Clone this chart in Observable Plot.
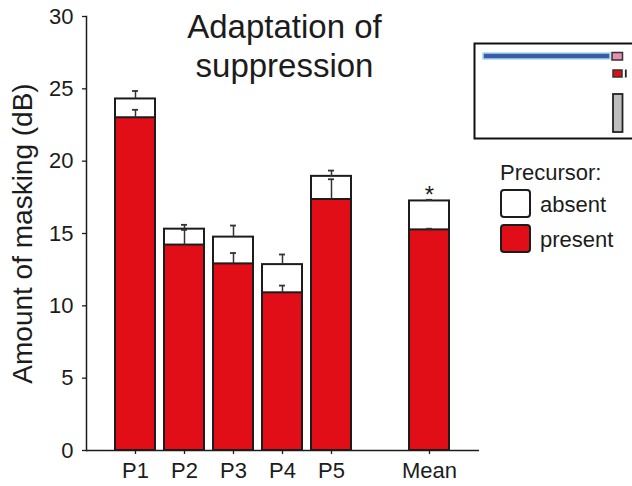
<!DOCTYPE html>
<html><head><meta charset="utf-8">
<script src="https://cdn.jsdelivr.net/npm/d3@7"></script>
<script src="https://cdn.jsdelivr.net/npm/@observablehq/plot@0.6"></script>
<style>
body{margin:0;background:#fff;}
#chart{position:relative;width:632px;height:486px;overflow:hidden;font-family:"Liberation Sans",Arial,sans-serif;}
#chart svg{position:absolute;left:0;top:0;}
</style></head><body><div id="chart"></div>
<script>
// ---- data ----
const categories = ["P1", "P2", "P3", "P4", "P5", "Mean"];
const absent      = [24.3, 15.3, 14.75, 12.85, 18.95, 17.25];
const absentErr   = [0.55, 0.3, 0.8, 0.7, 0.4, 0.08];
const present     = [23.0, 14.2, 12.9, 10.9, 17.35, 15.25];
const presentErr  = [0.55, 1.05, 0.75, 0.5, 1.4, 0.08];
const yTicks = [0, 5, 10, 15, 20, 25, 30];
const significance = [{cat: "Mean", mark: "*"}];
const legendLabels = ["absent", "present"];
const legendTitle = "Precursor:";
const titleText = "Adaptation of\nsuppression";
const yLabel = "Amount of masking (dB)";

const RED = "#e20e17";
const INK = "#1c1c1c";
const FONT = "'Liberation Sans', Arial, sans-serif";

const rows = categories.map((c, i) => ({
  cat: c, absent: absent[i], absentErr: absentErr[i],
  present: present[i], presentErr: presentErr[i]
}));
const xDomain = [...categories.slice(0, 5), " ", categories[5]];
const sig = significance.map(s => {
  const r = rows.find(d => d.cat === s.cat);
  return {...s, top: r.absent + r.absentErr};
});

const plot = Plot.plot({
  width: 632, height: 486,
  marginLeft: 86, marginRight: 153, marginTop: 16, marginBottom: 36,
  style: {fontFamily: FONT, background: "transparent", color: INK},
  x: {type: "band", domain: xDomain, paddingInner: 0.181, paddingOuter: 0.585, label: null},
  y: {domain: [0, 30], label: null},
  marks: [
    Plot.barY(rows, {x: "cat", y: "absent", fill: "white", stroke: INK, strokeWidth: 2}),
    Plot.barY(rows, {x: "cat", y: "present", fill: RED, stroke: INK, strokeWidth: 2}),
    Plot.ruleX(rows, {x: "cat", y1: "absent", y2: d => d.absent + d.absentErr, stroke: "#333", strokeWidth: 1.5}),
    Plot.tickY(rows, {x: "cat", y: d => d.absent + d.absentErr, insetLeft: 17, insetRight: 17, stroke: "#333", strokeWidth: 1.8}),
    Plot.ruleX(rows, {x: "cat", y1: "present", y2: d => d.present + d.presentErr, stroke: "#333", strokeWidth: 1.5}),
    Plot.tickY(rows, {x: "cat", y: d => d.present + d.presentErr, insetLeft: 17, insetRight: 17, stroke: "#333", strokeWidth: 1.8}),
    Plot.text(sig, {x: "cat", y: "top", text: "mark", dy: -4, fontSize: 24, fill: INK}),
    Plot.axisY({ticks: yTicks, tickSize: 4, tickPadding: 9, fontSize: 22, label: null, strokeWidth: 1.3}),
    Plot.axisX({ticks: categories, tickSize: 4, tickPadding: 8, fontSize: 22, label: null, strokeWidth: 1.3}),
    Plot.ruleY([0], {stroke: INK, strokeWidth: 1.5}),
    Plot.frame({anchor: "left", stroke: INK, strokeWidth: 1.5}),
    Plot.text([yLabel], {frameAnchor: "left", textAnchor: "middle", rotate: -90, dx: -63, fontSize: 28, fill: INK}),
    Plot.text([titleText], {frameAnchor: "top", lineAnchor: "top", fontSize: 33, lineHeight: 1.18, dy: -6, dx: 1.5, fill: INK})
  ]
});
const chart = document.getElementById("chart");
chart.appendChild(plot);

// ---- overlay: stimulus schematic and legend ----
const ov = d3.select(chart).append("svg").attr("width", 632).attr("height", 486)
  .style("font-family", FONT);
// schematic box
ov.append("rect").attr("x", 474.5).attr("y", 43.5).attr("width", 200).attr("height", 95)
  .attr("fill", "white").attr("stroke", "#111").attr("stroke-width", 2);
ov.append("rect").attr("x", 483).attr("y", 53).attr("width", 127).attr("height", 6)
  .attr("fill", "#3b5ba5").attr("stroke", "#a9d9f3").attr("stroke-width", 1.5);
ov.append("rect").attr("x", 612).attr("y", 52.5).attr("width", 10.5).attr("height", 7.5)
  .attr("fill", "#ea8db2").attr("stroke", "#333").attr("stroke-width", 1.5);
ov.append("rect").attr("x", 613).attr("y", 70).attr("width", 9).attr("height", 7)
  .attr("fill", RED).attr("stroke", "#333").attr("stroke-width", 1.5);
ov.append("line").attr("x1", 625.8).attr("x2", 625.8).attr("y1", 69.5).attr("y2", 77.5)
  .attr("stroke", "#222").attr("stroke-width", 1.8);
ov.append("rect").attr("x", 613).attr("y", 94).attr("width", 9.5).attr("height", 38)
  .attr("fill", "#bebebe").attr("stroke", "#222").attr("stroke-width", 1.8);
// legend
ov.append("text").attr("x", 500).attr("y", 180).attr("font-size", 22).attr("fill", INK).text(legendTitle);
const swatchFill = ["white", RED];
legendLabels.forEach((lab, i) => {
  const y0 = 190 + i * 35;
  ov.append("rect").attr("x", 501).attr("y", y0).attr("width", 29).attr("height", 27).attr("rx", 3)
    .attr("fill", swatchFill[i]).attr("stroke", INK).attr("stroke-width", 2);
  ov.append("text").attr("x", 540).attr("y", y0 + 22).attr("font-size", 22).attr("fill", INK).text(lab);
});
</script>
</body></html>
